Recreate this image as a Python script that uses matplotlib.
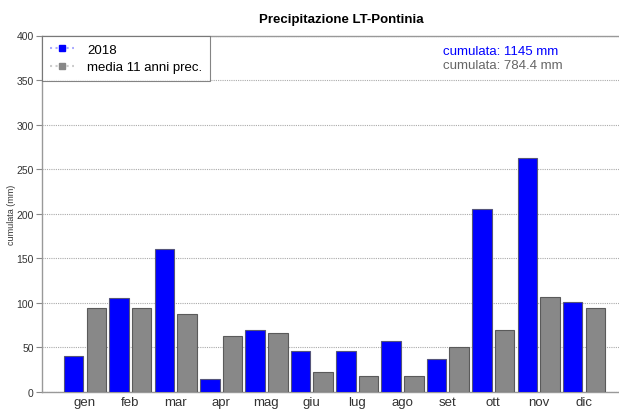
import matplotlib
matplotlib.use("Agg")
import matplotlib.pyplot as plt
import numpy as np
from matplotlib.lines import Line2D

months = ["gen", "feb", "mar", "apr", "mag", "giu", "lug", "ago", "set", "ott", "nov", "dic"]
rain_2018 = [40, 105, 161, 15, 70, 46, 46, 57, 37, 205, 262, 101]
rain_avg = [94, 94, 88, 63, 66, 22, 18, 18, 51, 70, 107, 94]
label_2018 = "2018"
label_avg = "media 11 anni prec."
cum_2018 = "cumulata: 1145 mm"
cum_avg = "cumulata: 784.4 mm"

plt.rcParams['font.family'] = ['Liberation Sans', 'DejaVu Sans']

W, H = 619, 410
left_px, right_px = 42, 640
fig = plt.figure(figsize=(W/100, H/100), dpi=100)
ax = fig.add_axes([left_px/W, 17/H, (right_px-left_px)/W, (393-36.5)/H])

x = np.arange(len(months))
w = 0.43
ax.bar(x - 0.25, rain_2018, width=w, color="#0000ff", edgecolor="#55557a", linewidth=0.8, zorder=3)
ax.bar(x + 0.25, rain_avg, width=w, color="#888888", edgecolor="#5a5a5a", linewidth=0.8, zorder=3)

ppu = (584 - 85) / 11.0
ax.set_xlim(-(85 - left_px)/ppu, 11 + (right_px - 584)/ppu)
ax.set_ylim(0, 400)
ax.set_yticks(range(0, 401, 50))
ax.set_xticks(x)
ax.set_xticklabels(months, fontsize=9.5, color="#333333")
ax.tick_params(axis='x', length=0, pad=3)
ax.tick_params(axis='y', length=4, width=0.8, color="#888888", labelsize=7.5, labelcolor="#333333", pad=2)
ax.grid(axis='y', linestyle=(0, (1, 1)), color="#aaaaaa", linewidth=0.8, zorder=0)
for s in ["left", "top", "bottom"]:
    ax.spines[s].set_color("#999999")
    ax.spines[s].set_linewidth(1.0)
ax.spines["right"].set_visible(False)

ax.set_ylabel("cumulata (mm)", fontsize=6.5, color="#333333", labelpad=0.5)
ax.set_title("Precipitazione LT-Pontinia", fontsize=9.5, fontweight="bold", pad=10)

handles = [
    Line2D([0], [0], color="#aaaaff", linestyle=":", marker="s", markersize=5,
           markerfacecolor="#0000ff", markeredgecolor="#0000ff"),
    Line2D([0], [0], color="#cccccc", linestyle=":", marker="s", markersize=5,
           markerfacecolor="#888888", markeredgecolor="#888888"),
]
leg = ax.legend(handles, [label_2018, label_avg], loc="upper left", bbox_to_anchor=(0, 1),
                fontsize=9.5, frameon=True, fancybox=False, borderaxespad=0,
                handlelength=1.8, handletextpad=1.0, borderpad=0.6, labelspacing=0.4)
leg.get_frame().set_edgecolor("#666666")
leg.get_frame().set_linewidth(0.8)
leg.set_zorder(5)

tx = (443 - left_px) / (right_px - left_px)
ax.text(tx, (393-52)/356.5, cum_2018, transform=ax.transAxes, color="#0000ff", fontsize=9.5, ha="left", va="center")
ax.text(tx, (393-66)/356.5, cum_avg, transform=ax.transAxes, color="#666666", fontsize=9.5, ha="left", va="center")

fig.savefig("out.png", dpi=100)
